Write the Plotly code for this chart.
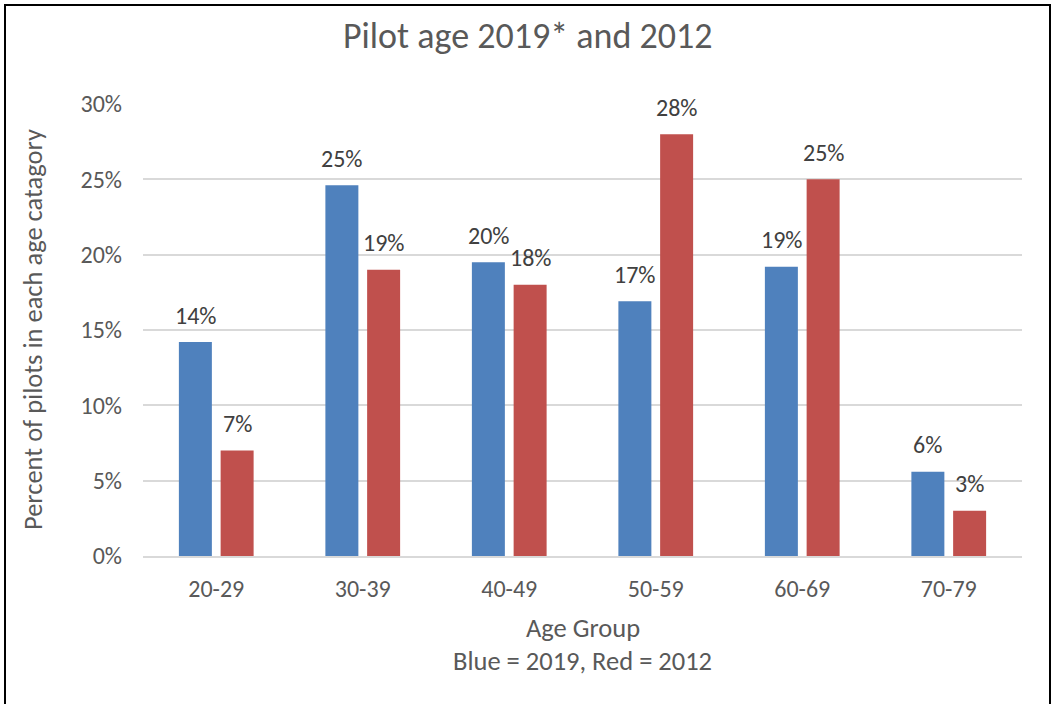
import plotly.graph_objects as go

# Share of pilots in each age group (fractions)
age_groups = ["20-29", "30-39", "40-49", "50-59", "60-69", "70-79"]
pct_2019 = [0.142, 0.246, 0.195, 0.169, 0.192, 0.056]
pct_2012 = [0.070, 0.190, 0.180, 0.280, 0.250, 0.030]

y_ticks = [0, 0.05, 0.10, 0.15, 0.20, 0.25, 0.30]

BLUE = "#4f81bd"
RED = "#c0504d"
FONT = "Carlito, Lato, 'Liberation Sans', sans-serif"
GREY = "#595959"
LABEL = "#404040"

W, H = 1052, 704
L, R, T, B = 143, 30, 104, 148
plot_w = W - L - R
plot_h = H - T - B

BARGAP = 0.43
GROUPGAP = 0.21
half_slot = (1 - BARGAP) / 4  # centre offset of each bar inside its group

fig = go.Figure()
fig.add_trace(go.Bar(x=age_groups, y=pct_2019, name="2019",
                     marker=dict(color=BLUE, line=dict(width=0))))
fig.add_trace(go.Bar(x=age_groups, y=pct_2012, name="2012",
                     marker=dict(color=RED, line=dict(width=0))))

annotations = []
for i, (a, b) in enumerate(zip(pct_2019, pct_2012)):
    for off, v in ((-half_slot, a), (half_slot, b)):
        annotations.append(dict(
            x=i + off, y=v, xref="x", yref="y", text=f"{v:.0%}",
            showarrow=False, yanchor="middle", yshift=27,
            font=dict(family=FONT, size=24, color=LABEL)))

def px_x(px):
    return (px - L) / plot_w

def px_y(py):
    return (H - B - py) / plot_h

def paper_text(text, x, y, size, angle=0):
    return dict(x=x, y=y, xref="paper", yref="paper", text=text,
                showarrow=False, xanchor="center", yanchor="middle",
                textangle=angle, font=dict(family=FONT, size=size, color=GREY))

annotations += [
    paper_text("Pilot age 2019* and 2012", px_x(528), px_y(36), 36),
    paper_text("Percent of pilots in each age catagory", px_x(33), 0.5, 26.5, -90),
    paper_text("Age Group", 0.5, px_y(628), 26.5),
    paper_text("Blue = 2019, Red = 2012", 0.5, px_y(661), 26.5),
]

fig.update_layout(
    width=W, height=H,
    margin=dict(l=L, r=R, t=T, b=B),
    paper_bgcolor="white", plot_bgcolor="white",
    barmode="group", bargap=BARGAP, bargroupgap=GROUPGAP,
    showlegend=False,
    annotations=annotations,
    shapes=[dict(type="rect", xref="paper", yref="paper",
                 x0=px_x(5), x1=px_x(1050), y0=px_y(5), y1=px_y(720),
                 line=dict(color="black", width=2), layer="above")],
    font=dict(family=FONT, color=GREY),
)
fig.update_xaxes(
    showgrid=False, showline=True, linecolor="#d9d9d9", linewidth=2,
    ticks="", ticklabelstandoff=10,
    tickfont=dict(family=FONT, size=24, color=GREY),
)
fig.update_yaxes(
    range=[0, 0.30], tickvals=y_ticks, tickformat=".0%",
    showgrid=True, gridcolor="#d9d9d9", gridwidth=1.5,
    zeroline=False, showline=False, ticks="", ticklabelstandoff=20,
    tickfont=dict(family=FONT, size=24, color=GREY),
)

fig.write_html("out.html")
